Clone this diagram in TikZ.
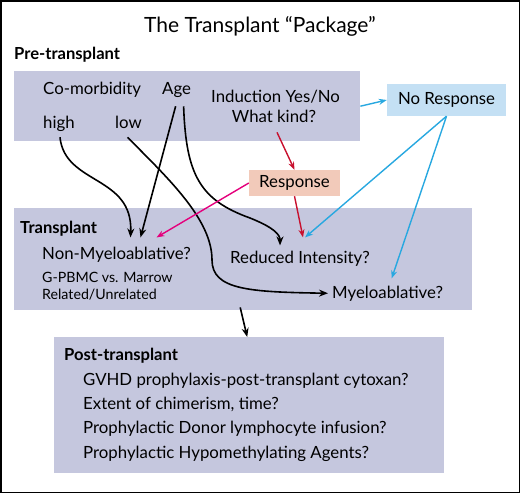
\documentclass[tikz,border=0pt]{standalone}
\usepackage{fontspec}
\setmainfont{Lato}
\usetikzlibrary{arrows.meta,calc}
\definecolor{PkgLav}{RGB}{197,199,222}
\definecolor{PkgSky}{RGB}{196,224,244}
\definecolor{PkgPeach}{RGB}{242,202,186}
\definecolor{PkgRed}{RGB}{200,16,46}
\definecolor{PkgPink}{RGB}{228,0,124}
\definecolor{PkgBlue}{RGB}{40,168,224}
\tikzset{
	panel/.style={fill=PkgLav,inner sep=0pt,anchor=north west},
	tag/.style={inner sep=0pt,anchor=center,font=\fontsize{16.8}{19}\selectfont},
	lbl/.style={inner sep=0pt,anchor=base west,font=\fontsize{16.8}{19}\selectfont},
	head/.style={lbl,font=\fontsize{16.6}{19}\selectfont\bfseries},
	small/.style={lbl,font=\fontsize{14.2}{16}\selectfont},
	blk/.style={draw=black,line width=1.6pt,-{Stealth[length=9pt,width=7pt]}},
	redarr/.style={draw=PkgRed,line width=1.4pt,-{Stealth[length=8pt,width=6pt]}},
	pinkarr/.style={draw=PkgPink,line width=1.4pt,-{Stealth[length=8pt,width=6pt]}},
	bluarr/.style={draw=PkgBlue,line width=1.4pt,-{Stealth[length=8pt,width=6pt]}},
}
\begin{document}
\begin{tikzpicture}[x=1pt,y=-1pt]
	\useasboundingbox (0,0) rectangle (520,493);
	\draw[line width=1.5pt] (0.75,0.75) rectangle (519.25,492.25);
	\node[inner sep=0pt,anchor=base,font=\fontsize{21}{24}\selectfont] (title) at (260,32) {The Transplant ``Package''};
	\node[head] (prelabel) at (14,59) {Pre-transplant};
	\node[panel,minimum width=346pt,minimum height=70pt] (prebox) at (14,71) {};
	\node[lbl] (comorb) at (43,94) {Co-morbidity};
	\node[lbl] (age) at (162,94) {Age};
	\node[lbl] (induct) at (211,102) {Induction Yes/No};
	\node[lbl,anchor=base] (whatkind) at (274,122) {What kind?};
	\node[lbl] (high) at (43,128) {high};
	\node[lbl] (low) at (115,128) {low};
	\node[tag,fill=PkgSky,minimum width=119pt,minimum height=32pt] (noresp) at (446.5,100) {No Response};
	\node[tag,fill=PkgPeach,minimum width=91pt,minimum height=26pt] (resp) at (294.5,183) {Response};
	\node[panel,minimum width=458pt,minimum height=102pt] (txbox) at (14,208) {};
	\node[head] (txlabel) at (20,233) {Transplant};
	\node[lbl] (nonmyelo) at (42,259) {Non-Myeloablative?};
	\node[small] (gpbmc) at (42,282) {G-PBMC vs. Marrow};
	\node[small] (related) at (42,299) {Related/Unrelated};
	\node[lbl] (reduced) at (230,263) {Reduced Intensity?};
	\node[lbl] (myelo) at (332,298) {Myeloablative?};
	\node[panel,minimum width=390pt,minimum height=136pt] (postbox) at (54,337) {};
	\node[head] (postlabel) at (64,360) {Post-transplant};
	\node[lbl] (gvhd) at (83,385) {GVHD prophylaxis-post-transplant cytoxan?};
	\node[lbl] (chimer) at (83,409) {Extent of chimerism, time?};
	\node[lbl] (dli) at (83,433) {Prophylactic Donor lymphocyte infusion?};
	\node[lbl] (hma) at (83,458) {Prophylactic Hypomethylating Agents?};
	\draw[blk] ([xshift=1pt,yshift=-6pt]high.south) .. controls (65,185) and (133,175) .. ([xshift=14pt,yshift=9pt]nonmyelo.north);
	\draw[blk] ([xshift=-1pt,yshift=-9pt]age.south) -- ([xshift=24pt,yshift=9pt]nonmyelo.north);
	\draw[blk] ([xshift=-1pt,yshift=-9pt]low.south) .. controls (170,180) and (212,220) .. (212,260) .. controls (212,290) and (250,292) .. ([xshift=-4pt]myelo.west);
	\draw[blk] ([xshift=7pt,yshift=-9pt]age.south) .. controls (186,175) and (200,200) .. (250,218) .. controls (275,228) and (280,235) .. ([xshift=-20pt,yshift=5pt]reduced.north);
	\draw[redarr] ([xshift=3pt,yshift=-10pt]whatkind.south) -- (resp.north);
	\draw[redarr] (resp.south) -- ([xshift=3pt,yshift=13pt]reduced.north);
	\draw[pinkarr] (resp.west) -- ([xshift=40pt,yshift=9pt]nonmyelo.north);
	\draw[bluarr] (prebox.east) -- (noresp.west);
	\draw[bluarr] (noresp.south) -- ([xshift=5pt,yshift=13pt]reduced.north);
	\draw[bluarr] (noresp.south) -- ([xshift=4pt,yshift=7pt]myelo.north);
	\draw[blk] ([xshift=-3pt,yshift=3pt]txbox.south) -- ([xshift=-2pt]postbox.north);
\end{tikzpicture}
\end{document}
